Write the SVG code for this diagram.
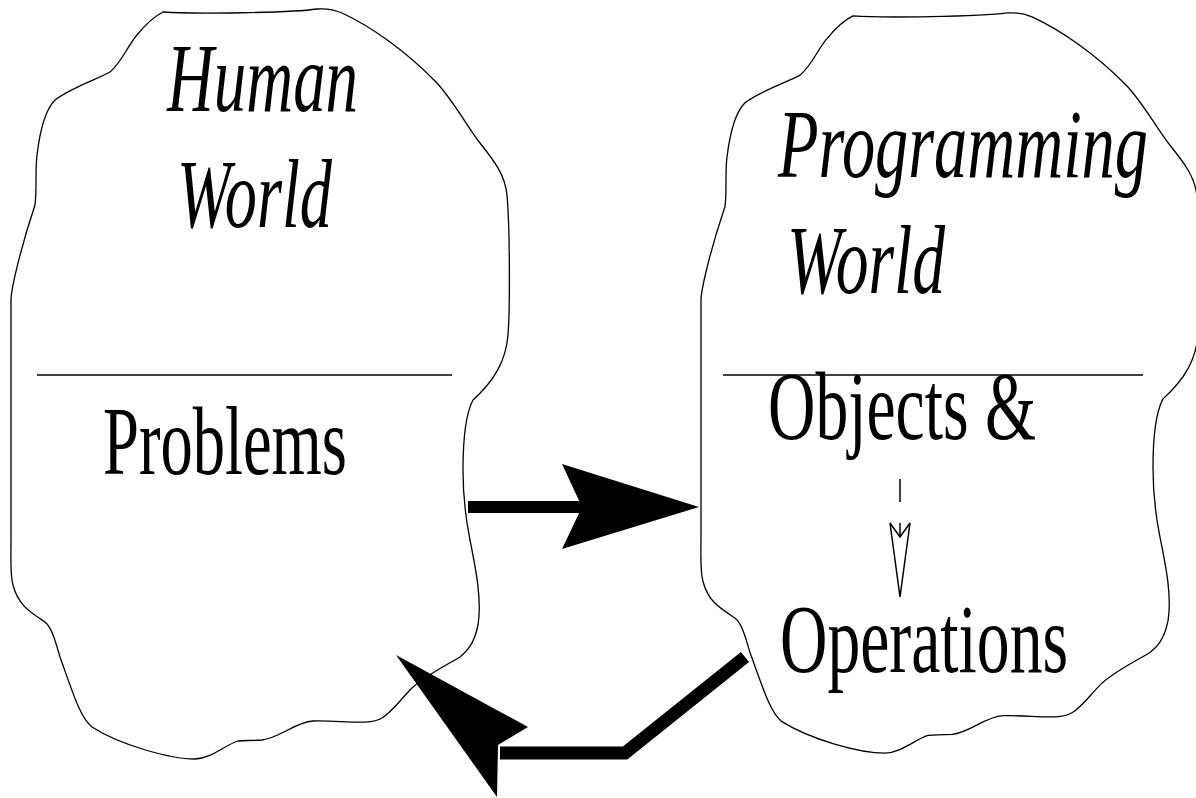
<svg xmlns="http://www.w3.org/2000/svg" width="1196" height="798" viewBox="0 0 1196 798">
  <style>
    .blob { fill: none; stroke: #000; stroke-width: 1.3; }
    .divider { stroke: #000; stroke-width: 1.5; }
    .title { font-family: "Liberation Serif", "Times New Roman", serif; font-style: italic; font-size: 98px; fill: #000; }
    .label { font-family: "Liberation Serif", "Times New Roman", serif; font-size: 98px; fill: #000; }
    .thick { fill: none; stroke: #000; stroke-width: 13; stroke-linejoin: miter; }
  </style>
  <defs>
    <!-- irregular cloud outline shared by both worlds -->
    <path id="cloud" d="M163,12
      C190,14 290,13 317,9
      C328,8 335,10 342,13
      C370,26 405,50 437,83
      C455,103 468,128 480,143
      C495,162 505,175 507,195
      C510,230 510,310 508,335
      C506,360 495,380 473,400
      C465,415 463,440 463,470
      C463,500 466,520 470,540
      C476,570 482,600 478,625
      C474,645 466,652 460,657
      C445,666 425,676 412,688
      C400,700 392,712 382,718
      C370,726 340,720 313,721
      C295,722 280,738 262,740
      C250,741 245,740 238,741
      C225,745 212,758 195,759
      C170,759 120,745 92,727
      C80,718 72,690 60,657
      C55,640 52,628 45,622
      C30,612 18,605 13,585
      C10,575 11,560 11,540
      L11,300
      C11,290 20,250 35,205
      C37,190 35,170 37,155
      C40,130 45,110 55,100
      C70,88 100,78 110,72
      C122,62 128,45 137,35
      C145,25 155,16 163,12 Z"/>
  </defs>

  <g id="human-world">
    <use href="#cloud" class="blob"/>
    <line class="divider" x1="37" y1="375" x2="452" y2="375"/>
    <text class="title" x="167" y="111" textLength="191" lengthAdjust="spacingAndGlyphs">Human</text>
    <text class="title" x="177" y="227" textLength="155" lengthAdjust="spacingAndGlyphs">World</text>
    <text class="label" x="103" y="474" textLength="244" lengthAdjust="spacingAndGlyphs">Problems</text>
  </g>

  <g id="programming-world">
    <use href="#cloud" class="blob" transform="matrix(1,0,0,0.987,690,4.1)"/>
    <line class="divider" x1="723" y1="375" x2="1143" y2="375"/>
    <text class="title" x="778" y="177" textLength="370" lengthAdjust="spacingAndGlyphs">Programming</text>
    <text class="title" x="787" y="293" textLength="158" lengthAdjust="spacingAndGlyphs">World</text>
    <text class="label" x="768" y="439" textLength="268" lengthAdjust="spacingAndGlyphs">Objects &amp;</text>
    <text class="label" x="780" y="672" textLength="288" lengthAdjust="spacingAndGlyphs">Operations</text>
  </g>

  <g id="connectors">
    <!-- Problems to Programming World -->
    <line x1="468" y1="507" x2="585" y2="507" stroke="#000" stroke-width="12"/>
    <polygon points="562,464 699,507 562,549 582,507" fill="#000"/>
    <!-- Operations back to Human World -->
    <polyline class="thick" points="745,657 625,753 500,753"/>
    <polygon points="396,655 528,727 498,745 497,797" fill="#000"/>
    <!-- Objects to Operations (dashed, open head) -->
    <line x1="900" y1="479" x2="900" y2="502" stroke="#000" stroke-width="1.5"/>
    <line x1="900" y1="523" x2="900" y2="537" stroke="#000" stroke-width="1.5"/>
    <polygon points="890,523 900,537 910,523 900,597" fill="#fff" stroke="#000" stroke-width="1.5"/>
  </g>
</svg>
